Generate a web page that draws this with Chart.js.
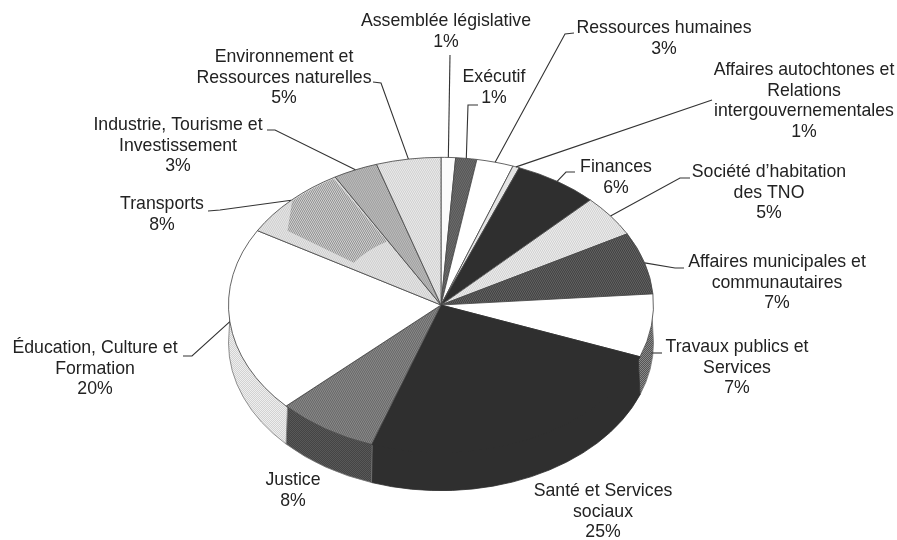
<!DOCTYPE html>
<html lang="fr">
<head>
<meta charset="UTF-8">
<title>Répartition par ministère</title>
<script src="https://cdn.jsdelivr.net/npm/chart.js"></script>
<style>
  html, body { margin: 0; padding: 0; background: #fff; }
  canvas { display: block; }
</style>
</head>
<body>
<canvas id="pie" width="897" height="540"></canvas>
<script>
// slices, clockwise from the top
const categories = [
  'Assemblée législative', 'Exécutif', 'Ressources humaines',
  'Affaires autochtones et Relations intergouvernementales', 'Finances',
  "Société d'habitation des TNO", 'Affaires municipales et communautaires',
  'Travaux publics et Services', 'Santé et Services sociaux', 'Justice',
  'Éducation, Culture et Formation', 'Transports',
  'Industrie, Tourisme et Investissement', 'Environnement et Ressources naturelles'
];
const values = [1.1, 1.6, 2.8, 0.5, 6.4, 4.6, 6.8, 6.9, 24.6, 7.7, 20.4, 8.3, 3.4, 4.9];
const shownPercent = ['1%', '1%', '3%', '1%', '6%', '5%', '7%', '7%', '25%', '8%', '20%', '8%', '3%', '5%'];

// label text broken the way the picture breaks it
const labelLines = [
  ['Assemblée législative'], ['Exécutif'], ['Ressources humaines'],
  ['Affaires autochtones et', 'Relations', 'intergouvernementales'], ['Finances'],
  ['Société d’habitation', 'des TNO'], ['Affaires municipales et', 'communautaires'],
  ['Travaux publics et', 'Services'], ['Santé et Services', 'sociaux'], ['Justice'],
  ['Éducation, Culture et', 'Formation'], ['Transports'],
  ['Industrie, Tourisme et', 'Investissement'], ['Environnement et', 'Ressources naturelles']
];
// centre x and y of the first line of each label
const labelX = [446, 494, 664, 804, 616, 769, 777, 737, 603, 293, 95, 162, 178, 284];
const labelY = [21, 77, 28, 70, 167, 172, 262, 347, 491, 480, 348, 204, 125, 57];
const lineGap = 20.8;
// leader lines: points on the label side, the last point is the slice edge
const leaderPoints = [
  [[450, 55]], [[478, 105], [468, 105]], [[574, 33], [565, 34]], [[712, 100]],
  [[575, 172], [566, 172]], [[690, 178], [680, 178]], [[684, 268], [675, 268]],
  [[662, 353]], null, null,
  [[183, 356], [192, 356]], [[208, 211], [220, 210]], [[267, 130], [275, 130]], [[373, 82], [381, 83]]
];

const CENTER_Y = 305, SQUASH = 148 / 213, DEPTH = 38;
const TRANSPORTS = 11, SANTE = 8;

function dither(a, b) {
  const c = document.createElement('canvas');
  c.width = c.height = 2;
  const g = c.getContext('2d');
  g.fillStyle = a; g.fillRect(0, 0, 2, 2);
  g.fillStyle = b; g.fillRect(0, 0, 1, 1); g.fillRect(1, 1, 1, 1);
  return g.createPattern(c, 'repeat');
}

const topColors = [
  '#fbfbfb', dither('#555', '#6e6e6e'), '#ffffff', '#e4e4e4', '#2f2f2f',
  dither('#cfcfcf', '#efefef'), dither('#3f3f3f', '#666'), '#ffffff', '#2f2f2f',
  dither('#666', '#8c8c8c'), '#ffffff', dither('#cdcdcd', '#e8e8e8'),
  dither('#9f9f9f', '#bdbdbd'), dither('#cfcfcf', '#ececec')
];
const sideColors = [
  '#ddd', '#444', '#ddd', '#ccc', '#222', '#bbb', '#444',
  dither('#555', '#888'), '#2f2f2f', dither('#444', '#585858'),
  dither('#d2d2d2', '#eeeeee'), '#aaa', '#888', '#bbb'
];
const edgeColors = topColors.map((c, i) => i === SANTE ? '#2f2f2f' : '#4a4a4a');

const pieGeometry = {
  id: 'pieGeometry',
  beforeDatasetsDraw(chart) {
    const ctx = chart.ctx, arcs = chart.getDatasetMeta(0).data;
    const { x: cx, y: cy, outerRadius: r } = arcs[0];
    const midY = CENTER_Y;
    // side wall, only the part facing the viewer
    arcs.forEach((arc, i) => {
      const a0 = Math.max(arc.startAngle, 0), a1 = Math.min(arc.endAngle, Math.PI);
      if (a0 >= a1) return;
      ctx.beginPath();
      ctx.ellipse(cx, midY + DEPTH, r, r * SQUASH, 0, a0, a1);
      // tucked slightly under the top face so no white seam shows
      ctx.ellipse(cx, midY, r - 2, (r - 2) * SQUASH, 0, a1, a0, true);
      ctx.closePath();
      ctx.fillStyle = sideColors[i];
      ctx.fill();
      ctx.strokeStyle = i === SANTE ? '#2f2f2f' : '#777';
      ctx.lineWidth = 0.8;
      ctx.stroke();
    });
    // squash the flat circle into the tilted top face
    ctx.save();
    ctx.translate(0, midY);
    ctx.scale(1, SQUASH);
    ctx.translate(0, -cy);
  },
  afterDatasetsDraw(chart) {
    const ctx = chart.ctx, arcs = chart.getDatasetMeta(0).data;

    // the scan is darker on the outer part of the Transports slice
    const t = arcs[TRANSPORTS], R = t.outerRadius;
    const from = t.startAngle + 0.08, to = t.endAngle - 0.012;
    ctx.beginPath();
    ctx.arc(t.x, t.y, R - 1.5, t.startAngle + 0.26, to);
    ctx.arc(t.x, t.y, R * 0.5, to, from, true);
    ctx.lineTo(t.x + R * 0.88 * Math.cos(from), t.y + R * 0.88 * Math.sin(from));
    ctx.closePath();
    ctx.fillStyle = dither('#8e8e8e', '#d6d6d6');
    ctx.fill();

    ctx.restore();
    const { x: cx, outerRadius: r } = arcs[0];

    // leader lines end at the middle of their slice's edge
    ctx.strokeStyle = '#333';
    ctx.lineWidth = 1.1;
    arcs.forEach((arc, i) => {
      if (!leaderPoints[i]) return;
      const mid = (arc.startAngle + arc.endAngle) / 2;
      let ex = cx + r * Math.cos(mid);
      let ey = CENTER_Y + r * SQUASH * Math.sin(mid);
      if (i === 7) ey = leaderPoints[i][0][1]; // this one stops on the wall
      ctx.beginPath();
      leaderPoints[i].forEach((p, j) => j ? ctx.lineTo(p[0], p[1]) : ctx.moveTo(p[0], p[1]));
      ctx.lineTo(ex, ey);
      ctx.stroke();
    });

    ctx.fillStyle = '#222';
    ctx.font = '17.7px "Liberation Sans", Arial, sans-serif';
    ctx.textAlign = 'center';
    ctx.textBaseline = 'middle';
    labelLines.forEach((lines, i) => {
      lines.concat(shownPercent[i]).forEach((t, j) => {
        ctx.fillText(t, labelX[i], labelY[i] + j * lineGap);
      });
    });
  }
};

new Chart(document.getElementById('pie'), {
  type: 'pie',
  data: {
    labels: categories,
    datasets: [{
      data: values,
      backgroundColor: topColors,
      borderColor: edgeColors,
      borderWidth: 1,
      hoverOffset: 0
    }]
  },
  options: {
    responsive: false,
    animation: false,
    events: [],
    layout: { padding: { left: 228, right: 243, top: 57, bottom: 57 } },
    plugins: { legend: { display: false }, tooltip: { enabled: false } }
  },
  plugins: [pieGeometry]
});
</script>
</body>
</html>
